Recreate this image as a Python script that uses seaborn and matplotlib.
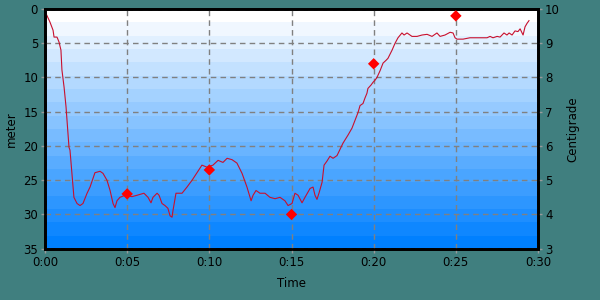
import numpy as np
import pandas as pd
import matplotlib
matplotlib.use("Agg")
import matplotlib.pyplot as plt
from matplotlib.colors import ListedColormap, to_rgb
from matplotlib.ticker import FuncFormatter
import seaborn as sns

# ---- data ----
time_min = [0.05, 0.30, 0.49, 0.55, 0.73, 0.85, 0.97, 1.03, 1.16, 1.28, 1.40, 1.46, 1.52, 1.64,
            1.76, 1.95, 2.13, 2.31, 2.56, 2.74, 3.04, 3.35, 3.53, 3.77, 3.96, 4.14, 4.26, 4.38,
            4.56, 4.87, 5.29, 5.60, 6.02, 6.27, 6.45, 6.57, 6.82, 6.94, 7.12, 7.30, 7.48, 7.61,
            7.73, 7.79, 7.97, 8.34, 8.64, 8.95, 9.25, 9.55, 9.86, 10.22, 10.53, 10.83, 11.08,
            11.38, 11.68, 11.99, 12.29, 12.54, 12.66, 12.84, 13.08, 13.39, 13.69, 14.00, 14.30,
            14.60, 14.79, 15.03, 15.21, 15.40, 15.64, 15.82, 16.13, 16.31, 16.43, 16.55, 16.67,
            16.86, 16.98, 17.16, 17.34, 17.53, 17.77, 17.95, 18.13, 18.44, 18.68, 18.86, 19.05,
            19.17, 19.35, 19.47, 19.59, 19.65, 19.84, 19.96, 20.08, 20.20, 20.39, 20.57, 20.75,
            20.87, 21.12, 21.30, 21.48, 21.72, 21.85, 22.03, 22.33, 22.64, 22.94, 23.25, 23.55,
            23.85, 24.04, 24.34, 24.65, 24.83, 24.95, 25.07, 25.44, 25.86, 26.29, 26.90, 27.08,
            27.26, 27.51, 27.69, 27.93, 28.11, 28.24, 28.42, 28.60, 28.78, 28.91, 29.09, 29.21,
            29.33, 29.45]
depth_m = [0.6, 1.9, 3.1, 4.1, 4.1, 4.8, 6.0, 8.9, 11.4, 14.3, 18.2, 20.2, 20.6, 24.0,
           27.5, 28.4, 28.7, 28.4, 26.9, 26.0, 23.9, 23.7, 24.0, 25.0, 26.5, 28.4, 29.0, 28.0,
           27.5, 27.2, 27.4, 27.2, 26.9, 27.5, 28.3, 27.5, 26.9, 27.2, 28.4, 28.7, 29.1, 30.2,
           30.4, 29.4, 26.9, 26.9, 26.0, 25.0, 23.9, 22.8, 23.1, 22.8, 22.1, 22.4, 21.8,
           22.0, 22.5, 24.0, 26.0, 28.0, 27.2, 26.5, 26.9, 26.9, 27.5, 27.7, 27.5,
           28.0, 28.7, 28.4, 26.9, 27.2, 28.3, 27.5, 26.2, 26.0, 27.2, 27.8, 26.9,
           25.3, 22.8, 22.2, 21.5, 21.8, 21.4, 20.5, 19.6, 18.4, 17.4, 16.3, 15.1,
           14.1, 13.8, 13.0, 12.3, 11.6, 11.1, 10.7, 10.4, 10.0, 9.0, 7.9, 7.5,
           7.2, 6.0, 5.0, 4.2, 3.5, 3.8, 3.5, 4.0, 4.0, 3.8, 3.7, 4.0,
           3.5, 4.0, 3.8, 3.4, 3.5, 4.2, 4.4, 4.4, 4.2, 4.2, 4.2, 4.0,
           4.2, 4.0, 4.1, 3.5, 3.8, 3.5, 3.8, 3.2, 3.3, 2.9, 3.8, 2.6,
           2.1, 1.7]

temp_time_min = [5, 10, 15, 20, 25]
temp_c = [4.6, 5.3, 4.0, 8.4, 9.8]

x_ticks = [0, 5, 10, 15, 20, 25, 30]
depth_ticks = [0, 5, 10, 15, 20, 25, 30, 35]
temp_ticks = [3, 4, 5, 6, 7, 8, 9, 10]

depth_df = pd.DataFrame({"time": time_min, "depth": depth_m})
temp_df = pd.DataFrame({"time": temp_time_min, "temp": temp_c})

# ---- style ----
BG = "#407f7f"
plt.rcParams["font.family"] = ["DejaVu Sans"]
plt.rcParams["font.size"] = 8.5

fig = plt.figure(figsize=(6, 3), dpi=100, facecolor=BG)
ax = fig.add_axes([0.075, 0.171, 0.8217, 0.799])
ax2 = ax.twinx()

# banded vertical gradient background
n_bands = 18
c_top = np.array(to_rgb("#ffffff"))
c_bot = np.array(to_rgb("#0080ff"))
band_colors = [c_top + (c_bot - c_top) * i / (n_bands - 1) for i in range(n_bands)]
grad = np.arange(n_bands).reshape(-1, 1)
ax.imshow(grad, extent=[0, 30, 35, 0], aspect="auto",
          cmap=ListedColormap(band_colors), interpolation="nearest", zorder=0)

sns.lineplot(data=depth_df, x="time", y="depth", ax=ax, color="#c8102e",
             linewidth=0.8, zorder=3)
sns.scatterplot(data=temp_df, x="time", y="temp", ax=ax2, marker="D", color="#ff0000",
                s=34, edgecolor="none", zorder=4)

ax.set_xlim(0, 30)
ax.set_ylim(35, 0)
ax2.set_ylim(3, 10)
ax.set_xticks(x_ticks)
ax.set_yticks(depth_ticks)
ax2.set_yticks(temp_ticks)
ax.xaxis.set_major_formatter(FuncFormatter(lambda v, p: f"{int(v)//60}:{int(v)%60:02d}"))

ax.grid(True, color="#808080", linestyle=(0, (4, 3)), linewidth=1.0, zorder=1)
ax.set_axisbelow(False)
for gl in ax.get_xgridlines() + ax.get_ygridlines():
    gl.set_zorder(1)

for a in (ax, ax2):
    for s in a.spines.values():
        s.set_color("black")
        s.set_linewidth(2.0)
    a.tick_params(length=3, width=1, color="#9a9a9a", labelcolor="black", labelsize=8.5, pad=2)

ax.set_xlabel("Time", fontsize=8.5, labelpad=6)
ax.set_ylabel("meter", fontsize=8.5, labelpad=4)
ax2.set_ylabel("Centigrade", fontsize=8.5, labelpad=5)

fig.savefig("out.png", dpi=100, facecolor=BG)
